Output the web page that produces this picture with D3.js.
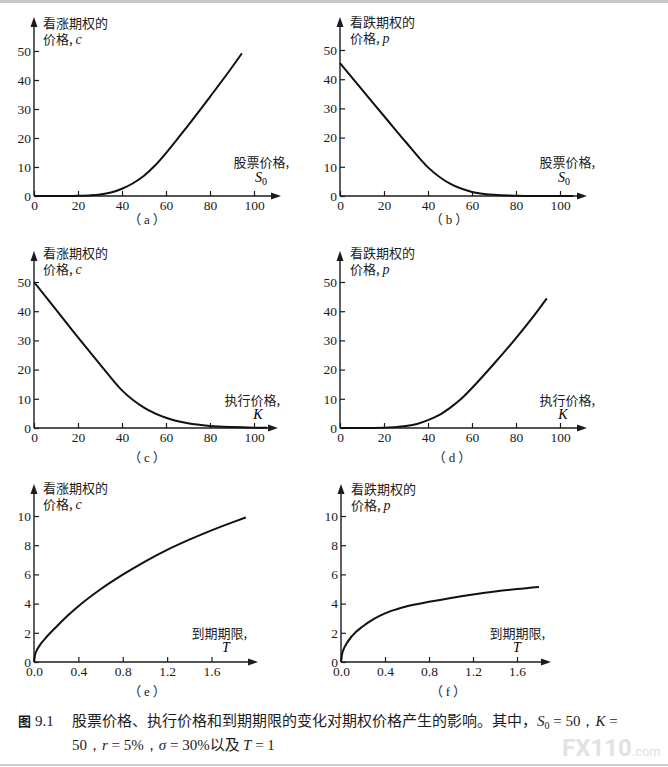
<!DOCTYPE html>
<html>
<head>
<meta charset="utf-8">
<script src="https://cdn.jsdelivr.net/npm/d3@7"></script>
<style>
  body { margin: 0; background: #fff; }
  svg { display: block; }
  .tick text { font-family: "Liberation Serif", "DejaVu Serif", serif; font-size: 13.5px; fill: #1c1c1c; }
  .tick line { stroke: #1c1c1c; stroke-width: 1.2; }
  .cjk { font-family: "Noto Sans CJK SC", sans-serif; font-size: 13px; fill: #1c1c1c; }
  .it { font-family: "Liberation Serif", serif; font-style: italic; font-size: 14px; }
  .sub { font-family: "Liberation Serif", serif; font-size: 10px; }
</style>
</head>
<body>
<svg id="chart" width="668" height="767"></svg>
<script>
// values (S0 = 50, K = 50, r = 5%, sigma = 30%, T = 1)
const stockPrice   = [0, 10, 20, 25, 30, 35, 40, 45, 50, 55, 60, 70, 80, 90, 94.5];
const callByStock  = [0, 0, 0.05, 0.2, 0.5, 1.2, 2.5, 4.4, 7.0, 10.5, 14.8, 24.3, 34.2, 44.4, 49.2];

const putStock     = [0, 10, 20, 30, 40, 50, 60, 70, 80, 90, 100, 106];
const putByStock   = [45.5, 36.4, 27.4, 18.4, 9.8, 4.2, 1.4, 0.4, 0.1, 0.02, 0, 0];

const strikePrice  = [0, 10, 20, 30, 35, 40, 45, 50, 60, 70, 80, 90, 100, 106];
const callByStrike = [50, 40.5, 31.0, 21.8, 17.2, 12.9, 9.6, 7.0, 3.5, 1.6, 0.7, 0.3, 0.1, 0.05];

const putStrike    = [0, 10, 20, 25, 30, 35, 40, 45, 50, 55, 60, 70, 80, 90, 94];
const putByStrike  = [0, 0, 0.1, 0.3, 0.7, 1.4, 2.7, 4.4, 6.9, 9.9, 13.7, 22.0, 30.8, 40.3, 44.4];

const maturity     = [0, 0.01, 0.02, 0.05, 0.1, 0.2, 0.3, 0.4, 0.6, 0.8, 1.0, 1.2, 1.4, 1.6, 1.8, 1.91];
const callByTime   = [0, 0.5, 0.72, 1.12, 1.6, 2.4, 3.15, 3.82, 4.98, 5.98, 6.88, 7.68, 8.38, 9.02, 9.6, 9.9];

const putTime      = [0, 0.01, 0.02, 0.05, 0.1, 0.2, 0.3, 0.4, 0.5, 0.6, 0.8, 1.0, 1.2, 1.4, 1.6, 1.8];
const putByTime    = [0, 0.55, 0.8, 1.25, 1.78, 2.45, 2.95, 3.33, 3.6, 3.82, 4.12, 4.39, 4.63, 4.83, 5.0, 5.14];

// tick labels
const priceTicks = [0, 20, 40, 60, 80, 100];
const valueTicks = [0, 10, 20, 30, 40, 50];
const timeTicks  = [0, 0.4, 0.8, 1.2, 1.6];
const smallTicks = [0, 2, 4, 6, 8, 10];

const svg = d3.select("#chart");

// thin grey rules at the top and bottom of the scanned page
svg.append("rect").attr("x", 0).attr("y", 0).attr("width", 668).attr("height", 3).attr("fill", "#c8c8c8");
svg.append("rect").attr("x", 0).attr("y", 764).attr("width", 668).attr("height", 2).attr("fill", "#cfcfcf");

const panels = [
  { xs: stockPrice, ys: callByStock, xDom: [0, 100], xRange: [34, 254], yDom: [0, 50], yRange: [196, 51],
    xTicks: priceTicks, yTicks: valueTicks, xFmt: d3.format("d"), xEnd: 281, yEnd: 17,
    title: ["看涨期权的", "c"], tx: 43, ty: 28, axisName: "股票价格,", ax: 289, ay: 167, sym: "S", symSub: "0", sx: 261, sy: 182,
    tag: "a", cx: 147, cy: 224 },
  { xs: putStock, ys: putByStock, xDom: [0, 100], xRange: [340, 560], yDom: [0, 50], yRange: [196, 50],
    xTicks: priceTicks, yTicks: valueTicks, xFmt: d3.format("d"), xEnd: 587, yEnd: 17,
    title: ["看跌期权的", "p"], tx: 350, ty: 27, axisName: "股票价格,", ax: 595, ay: 167, sym: "S", symSub: "0", sx: 564, sy: 182,
    tag: "b", cx: 449, cy: 224 },
  { xs: strikePrice, ys: callByStrike, xDom: [0, 100], xRange: [34, 254], yDom: [0, 50], yRange: [428, 282],
    xTicks: priceTicks, yTicks: valueTicks, xFmt: d3.format("d"), xEnd: 278, yEnd: 251,
    title: ["看涨期权的", "c"], tx: 43, ty: 258, axisName: "执行价格,", ax: 280, ay: 405, sym: "K", symSub: "", sx: 258, sy: 419,
    tag: "c", cx: 147, cy: 462 },
  { xs: putStrike, ys: putByStrike, xDom: [0, 100], xRange: [340, 560], yDom: [0, 50], yRange: [428, 282],
    xTicks: priceTicks, yTicks: valueTicks, xFmt: d3.format("d"), xEnd: 587, yEnd: 251,
    title: ["看跌期权的", "p"], tx: 350, ty: 258, axisName: "执行价格,", ax: 595, ay: 405, sym: "K", symSub: "", sx: 563, sy: 419,
    tag: "d", cx: 452, cy: 462 },
  { xs: maturity, ys: callByTime, xDom: [0, 1.6], xRange: [34, 211.5], yDom: [0, 10], yRange: [662, 516],
    xTicks: timeTicks, yTicks: smallTicks, xFmt: d3.format(".1f"), xEnd: 258, yEnd: 484,
    title: ["看涨期权的", "c"], tx: 43, ty: 493, axisName: "到期期限,", ax: 247, ay: 638, sym: "T", symSub: "", sx: 226, sy: 652,
    tag: "e", cx: 147, cy: 696 },
  { xs: putTime, ys: putByTime, xDom: [0, 1.6], xRange: [341, 517], yDom: [0, 10], yRange: [662, 516],
    xTicks: timeTicks, yTicks: smallTicks, xFmt: d3.format(".1f"), xEnd: 551, yEnd: 484,
    title: ["看跌期权的", "p"], tx: 351, ty: 494, axisName: "到期期限,", ax: 545, ay: 638, sym: "T", symSub: "", sx: 517, sy: 652,
    tag: "f", cx: 448, cy: 696 }
];

panels.forEach(p => {
  const x = d3.scaleLinear().domain(p.xDom).range(p.xRange);
  const y = d3.scaleLinear().domain(p.yDom).range(p.yRange);
  const ox = x(0), oy = y(0);
  const g = svg.append("g");

  // ticks point inward, domain lines are drawn by hand so they can carry arrows
  g.append("g")
    .attr("transform", `translate(0,${oy})`)
    .call(d3.axisBottom(x).tickValues(p.xTicks).tickFormat(p.xFmt).tickSizeInner(-5).tickSizeOuter(0).tickPadding(4))
    .call(a => a.select(".domain").remove());

  g.append("g")
    .attr("transform", `translate(${ox},0)`)
    .call(d3.axisLeft(y).tickValues(p.yTicks).tickSizeInner(-5).tickSizeOuter(0).tickPadding(3))
    .call(a => a.select(".domain").remove());

  g.selectAll(".tick text").attr("font-size", null);

  g.append("line").attr("x1", ox).attr("y1", oy).attr("x2", p.xEnd - 6).attr("y2", oy)
    .attr("stroke", "#1c1c1c").attr("stroke-width", 1.4);
  g.append("line").attr("x1", ox).attr("y1", oy).attr("x2", ox).attr("y2", p.yEnd + 6)
    .attr("stroke", "#1c1c1c").attr("stroke-width", 1.4);

  // arrow heads
  g.append("path")
    .attr("d", `M${p.xEnd},${oy} L${p.xEnd - 10},${oy - 3.5} L${p.xEnd - 10},${oy + 3.5} Z`)
    .attr("fill", "#1c1c1c");
  g.append("path")
    .attr("d", `M${ox},${p.yEnd} L${ox - 3.5},${p.yEnd + 10} L${ox + 3.5},${p.yEnd + 10} Z`)
    .attr("fill", "#1c1c1c");

  // the curve
  const pts = p.xs.map((v, i) => [v, p.ys[i]]);
  g.append("path")
    .datum(pts)
    .attr("fill", "none")
    .attr("stroke", "#111")
    .attr("stroke-width", 2)
    .attr("stroke-linejoin", "round")
    .attr("d", d3.line().x(d => x(d[0])).y(d => y(d[1])).curve(d3.curveMonotoneX));

  // y axis title, two lines
  g.append("text").attr("class", "cjk").attr("x", p.tx).attr("y", p.ty).text(p.title[0]);
  const t2 = g.append("text").attr("class", "cjk").attr("x", p.tx).attr("y", p.ty + 16);
  t2.append("tspan").text("价格, ");
  t2.append("tspan").attr("class", "it").text(p.title[1]);

  // x axis title
  g.append("text").attr("class", "cjk").attr("x", p.ax).attr("y", p.ay)
    .attr("text-anchor", "end").text(p.axisName);
  const s = g.append("text").attr("x", p.sx).attr("y", p.sy).attr("text-anchor", "middle");
  s.append("tspan").attr("class", "it").text(p.sym);
  if (p.symSub) s.append("tspan").attr("class", "sub").attr("dy", 3).text(p.symSub);

  // panel tag
  const c = g.append("text").attr("class", "cjk").attr("x", p.cx).attr("y", p.cy)
    .attr("text-anchor", "middle").attr("font-size", 12);
  c.append("tspan").text("（ ");
  c.append("tspan").attr("font-family", "Liberation Serif, serif").attr("font-size", 13).text(p.tag);
  c.append("tspan").text(" ）");
});

// figure caption
const cap = svg.append("g").attr("font-size", 15).attr("fill", "#1c1c1c");
cap.append("text").attr("x", 18).attr("y", 726)
  .attr("font-family", "Noto Sans CJK SC, sans-serif").attr("font-weight", 700).attr("font-size", 13).text("图");
cap.append("text").attr("x", 35).attr("y", 726)
  .attr("font-family", "Liberation Serif, serif").attr("font-size", 15).text("9.1");

const line1 = cap.append("text").attr("x", 72).attr("y", 726).attr("font-family", "Noto Sans CJK SC, sans-serif");
line1.append("tspan").text("股票价格、执行价格和到期期限的变化对期权价格产生的影响。其中，");
line1.append("tspan").attr("font-family", "Liberation Serif, serif").attr("font-style", "italic").text("S");
line1.append("tspan").attr("font-family", "Liberation Serif, serif").attr("font-size", 10).attr("dy", 3).text("0");
line1.append("tspan").attr("font-family", "Liberation Serif, serif").attr("dy", -3).text(" = 50，");
line1.append("tspan").attr("font-family", "Liberation Serif, serif").attr("font-style", "italic").text("K");
line1.append("tspan").attr("font-family", "Liberation Serif, serif").text(" =");

const line2 = cap.append("text").attr("x", 72).attr("y", 750).attr("font-family", "Liberation Serif, serif");
line2.append("tspan").text("50，");
line2.append("tspan").attr("font-style", "italic").text("r");
line2.append("tspan").text(" = 5%，");
line2.append("tspan").attr("font-style", "italic").text("σ");
line2.append("tspan").text(" = 30%");
line2.append("tspan").attr("font-family", "Noto Sans CJK SC, sans-serif").text("以及 ");
line2.append("tspan").attr("font-style", "italic").text("T");
line2.append("tspan").text(" = 1");

// faint watermark bottom right
const wm = svg.append("text").attr("x", 562).attr("y", 756).attr("fill", "#e2e2e2")
  .attr("font-family", "Roboto, sans-serif").attr("font-weight", 700);
wm.append("tspan").attr("font-size", 24).text("FX110");
wm.append("tspan").attr("font-size", 13).attr("font-weight", 400).text(".com");
</script>
</body>
</html>
